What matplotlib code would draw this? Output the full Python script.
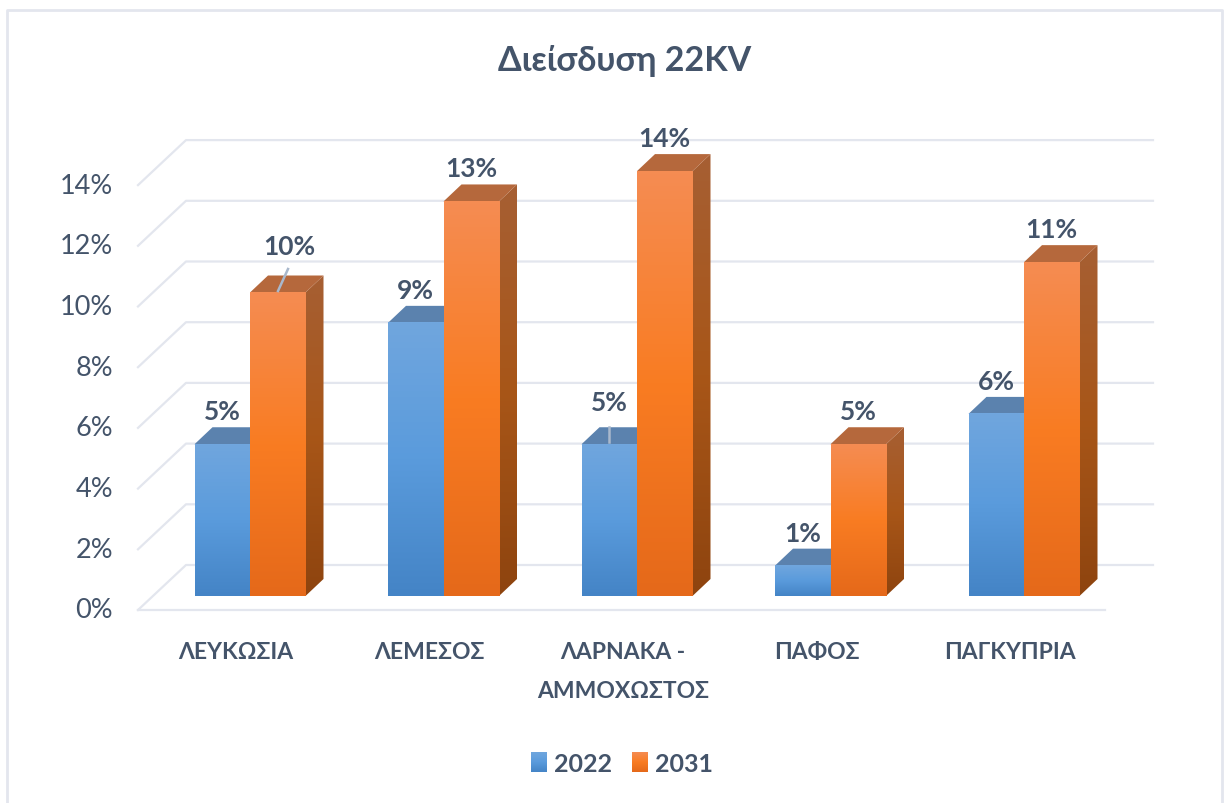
#!/usr/bin/env python3
"""Pseudo-3D grouped column chart: Διείσδυση 22KV."""

import matplotlib
matplotlib.use('Agg')
import matplotlib.pyplot as plt
import numpy as np
from matplotlib.colors import LinearSegmentedColormap
from matplotlib.patches import Polygon

plt.rcParams['font.family'] = ['Lato', 'Noto Sans', 'DejaVu Sans']

categories = ['ΛΕΥΚΩΣΙΑ', 'ΛΕΜΕΣΟΣ', 'ΛΑΡΝΑΚΑ -\nΑΜΜΟΧΩΣΤΟΣ', 'ΠΑΦΟΣ', 'ΠΑΓΚΥΠΡΙΑ']
values_2022 = [5, 9, 5, 1, 6]
values_2031 = [10, 13, 14, 5, 11]
y_ticks = [0, 2, 4, 6, 8, 10, 12, 14]
title = 'Διείσδυση 22KV'

TEXT = '#44546A'
GRID = '#E3E6EE'

W, H = 1224, 804
X_UNIT = 193.5    # px per category
Y_UNIT = 30.35    # px per percent
X0, Y0 = 250, 597  # px position of category 0, value 0

# depth of the bars and of the floor, in data units
bar_dx, bar_dy = 18 / X_UNIT, 17 / Y_UNIT
wall_dx, wall_dy = 48 / X_UNIT, 45 / Y_UNIT
floor_y = -14 / Y_UNIT
floor_left = (138 - X0) / X_UNIT
floor_right = (1105 - X0) / X_UNIT
bar_w = 55.5 / X_UNIT

BLUE = LinearSegmentedColormap.from_list('b', ['#4484C6', '#5A9BDC', '#70A6DE'])
ORANGE = LinearSegmentedColormap.from_list('o', ['#E5691A', '#F97C22', '#F58C52'])
ORANGE_SIDE = LinearSegmentedColormap.from_list('os', ['#8E440F', '#A85618', '#A65F33'])
grad = np.linspace(1, 0, 128).reshape(-1, 1)


def px(x, y):
    """Reference pixel position to data units."""
    return (x - X0) / X_UNIT, (Y0 - y) / Y_UNIT


def draw_bar(ax, x, h, cmap, top_color, z, side=None):
    """One column: side face, top face, gradient front."""
    if side is not None:
        im = ax.imshow(grad, cmap=side, aspect='auto', interpolation='bilinear', zorder=z,
                       extent=(x + bar_w, x + bar_w + bar_dx, 0, h + bar_dy))
        clip = Polygon([(x + bar_w, 0), (x + bar_w + bar_dx, bar_dy),
                        (x + bar_w + bar_dx, h + bar_dy), (x + bar_w, h)],
                       transform=ax.transData, fc='none', ec='none')
        ax.add_patch(clip)
        im.set_clip_path(clip)
    ax.add_patch(Polygon([(x, h), (x + bar_dx, h + bar_dy),
                          (x + bar_w + bar_dx, h + bar_dy), (x + bar_w, h)],
                         fc=top_color, ec='none', zorder=z))
    ax.imshow(grad, cmap=cmap, extent=(x, x + bar_w, 0, h), aspect='auto',
              interpolation='bilinear', zorder=z + 0.1)


def bar_label(ax, x, h, nudge=(0, 0)):
    ax.text(x + bar_w / 2 + nudge[0] / X_UNIT, h + bar_dy + (4 + nudge[1]) / Y_UNIT, f'{h}%',
            ha='center', va='bottom', fontsize=19, fontweight='bold', color=TEXT, zorder=10)


def main():
    fig = plt.figure(figsize=(W / 100, H / 100), dpi=100, facecolor='white')
    ax = fig.add_axes([0, 0, 1, 1])
    ax.axis('off')
    xlim = (-X0 / X_UNIT, (W - X0) / X_UNIT)
    ylim = (-(H - Y0) / Y_UNIT, Y0 / Y_UNIT)

    # outer chart frame
    fx0, fy1 = px(7, 11)
    fx1, _ = px(1222, 11)
    ax.plot([fx0, fx0, fx1, fx1], [ylim[0], fy1, fy1, ylim[0]], color=GRID, lw=2, zorder=1)

    # back wall gridlines, depth lines and floor
    for t in y_ticks:
        y_front = floor_y + t
        y_back = y_front + wall_dy
        ax.plot([floor_left, floor_left + wall_dx, floor_right + wall_dx],
                [y_front, y_back, y_back], color=GRID, lw=1.6, zorder=1)
        ax.text(floor_left - 25 / X_UNIT, y_front, f'{t}%', ha='right', va='center',
                fontsize=19.5, color=TEXT)
    ax.plot([floor_left, floor_right], [floor_y, floor_y], color=GRID, lw=1.6, zorder=1)

    # columns
    for i, (a, b) in enumerate(zip(values_2022, values_2031)):
        z = 2 + i
        draw_bar(ax, i - bar_w, a, BLUE, '#5B82AE', z)
        draw_bar(ax, i, b, ORANGE, '#B5683C', z + 0.3, side=ORANGE_SIDE)
        bar_label(ax, i - bar_w, a, nudge=(0, 9) if i == 2 else (0, 0))
        bar_label(ax, i, b, nudge=(12, 13) if i == 0 else (0, 0))
        ax.text(i - 14 / X_UNIT, px(0, 642)[1], categories[i], ha='center', va='top',
                fontsize=16.5, fontweight='bold', color=TEXT, linespacing=2.05)

    # leader lines on two data labels
    for p, q in [((278, 292), (288, 270)), ((609, 443), (609, 428))]:
        x1, y1 = px(*p)
        x2, y2 = px(*q)
        ax.plot([x1, x2], [y1, y2], color='#A9B8CC', lw=1.8, zorder=11)

    # legend
    for sx, c, label in [(531, BLUE, '2022'), (632, ORANGE, '2031')]:
        lx, ly = px(sx, 763)
        ax.imshow(grad, cmap=c, aspect='auto', interpolation='bilinear', zorder=3,
                  extent=(lx, lx + 16 / X_UNIT, ly - 10 / Y_UNIT, ly + 10 / Y_UNIT))
        ax.text(lx + 23 / X_UNIT, ly, label, ha='left', va='center_baseline',
                fontsize=18, fontweight='bold', color=TEXT)

    tx, ty = px(625, 61)
    ax.text(tx, ty, title, ha='center', va='center', fontsize=24.5, fontweight='bold', color=TEXT)

    ax.set_xlim(xlim)
    ax.set_ylim(ylim)
    fig.savefig('out.png', dpi=100)


if __name__ == "__main__":
    main()
